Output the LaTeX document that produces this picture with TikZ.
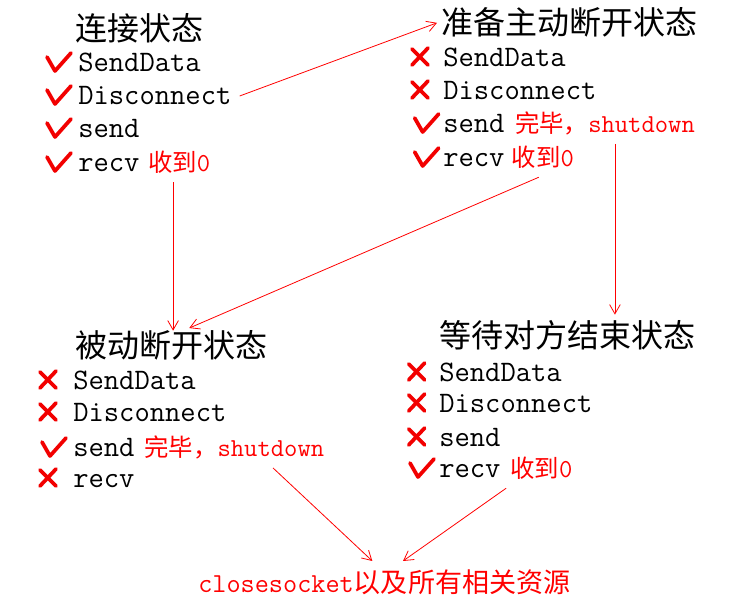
\documentclass[tikz,border=0pt]{standalone}
\usepackage{fontspec}
\newfontfamily\cjk{Noto Sans CJK SC}
\usepackage{tikz}
\usetikzlibrary{arrows.meta,positioning}
\definecolor{NoteRed}{HTML}{FF0000}
\definecolor{MarkRed}{HTML}{F20000}
\tikzset{
  statetitle/.style={anchor=base west,inner sep=0pt,font=\cjk\fontsize{24}{24}\selectfont},
  opline/.style={anchor=base west,inner sep=0pt,font=\ttfamily\fontsize{22.3}{22}\selectfont},
  rednote/.style={anchor=base west,inner sep=0pt,text=NoteRed,font=\ttfamily\fontsize{19.4}{20}\selectfont},
  markpen/.style={draw=MarkRed,line width=2.8pt,line cap=round,line join=round},
  flowarrow/.style={-{Straight Barb[length=7pt,width=8pt]},draw=NoteRed,line width=0.6pt},
  tickmark/.pic={\draw[markpen] (-31,-15) -- (-23,-1) -- (-7,-19);},
  crossmark/.pic={\draw[markpen] (-29,-18) -- (-13,-2); \draw[markpen] (-13,-19) -- (-29,-2);}
}
\newcommand{\zh}[1]{{\cjk\fontsize{18.3}{18}\selectfont #1}}

\begin{document}
\begin{tikzpicture}[x=0.75pt,y=-0.75pt]
\fill[white] (0,0) rectangle (739,605);
\useasboundingbox (0,0) rectangle (739,605);
% connected
\node[statetitle] (c0) at (75,41) {连接状态};
\node[opline] (c1) at (78,72) {SendData};
\node[opline] (c2) at (78,105) {Disconnect};
\node[opline] (c3) at (78,138) {send};
\node[opline] (c4) at (78,172) {recv};
\node[rednote] (c4n) at ([xshift=6pt]c4.base east) {\zh{收到}0};
\foreach \n in {c1,c2,c3,c4} \pic at (\n.base west) {tickmark};
% active close
\node[statetitle] (a0) at (441,35) {准备主动断开状态};
\node[opline] (a1) at (443,67) {SendData};
\node[opline] (a2) at (443,100) {Disconnect};
\node[opline] (a3) at (443,133) {send};
\node[rednote] (a3n) at ([xshift=7.5pt]a3.base east) {\zh{完毕，}shutdown};
\node[opline] (a4) at (443,167) {recv};
\node[rednote] (a4n) at ([xshift=5pt]a4.base east) {\zh{收到}0};
\foreach \n in {a1,a2} \pic at ([xshift=-1.5pt]\n.base west) {crossmark};
\foreach \n in {a3,a4} \pic at ([xshift=2pt]\n.base west) {tickmark};
% passive close
\node[statetitle] (p0) at (75,358) {被动断开状态};
\node[opline] (p1) at (73,390) {SendData};
\node[opline] (p2) at (73,422) {Disconnect};
\node[opline] (p3) at (73,457) {send};
\node[rednote] (p3n) at ([xshift=7pt]p3.base east) {\zh{完毕，}shutdown};
\node[opline] (p4) at (73,488) {recv};
\foreach \n in {p1,p2,p4} \pic at ([xshift=-3pt]\n.base west) {crossmark};
\pic at (p3.base west) {tickmark};
% waiting for peer
\node[statetitle] (w0) at (439,348) {等待对方结束状态};
\node[opline] (w1) at (439,382) {SendData};
\node[opline] (w2) at (439,413) {Disconnect};
\node[opline] (w3) at (439,447) {send};
\node[opline] (w4) at (439,478) {recv};
\node[rednote] (w4n) at ([xshift=7pt]w4.base east) {\zh{收到}0};
\foreach \n in {w1,w2,w3} \pic at ([xshift=-1pt]\n.base west) {crossmark};
\pic at ([xshift=1.5pt]w4.base west) {tickmark};
% end
\node[rednote,font=\ttfamily\fontsize{20.6}{20}\selectfont] (cl) at (198,592) {closesocket{\cjk\fontsize{20.3}{20}\selectfont 以及所有相关资源}};
% transitions
\draw[flowarrow] ([xshift=6pt]c2.east) -- ([xshift=-3pt]a0.west);
\draw[flowarrow] ([xshift=-4.5pt,yshift=-6pt]c4n.south) -- ([xshift=-4.5pt]c4n.south |- p0.north);
\draw[flowarrow] ([xshift=-3pt,yshift=-6pt]a4n.south) -- ([xshift=13.5pt,yshift=2pt]p0.north);
\draw[flowarrow] ([xshift=7.5pt,yshift=-6pt]a3n.south) -- ([xshift=7.5pt,yshift=4.5pt]a3n.south |- w0.north);
\draw[flowarrow] ([xshift=29pt,yshift=-6pt]p3n.south) -- ([xshift=-9pt,yshift=6pt]cl.north);
\draw[flowarrow] ([xshift=-3pt,yshift=-6pt]w4n.south west) -- ([xshift=14pt,yshift=6pt]cl.north);
\end{tikzpicture}
\end{document}
